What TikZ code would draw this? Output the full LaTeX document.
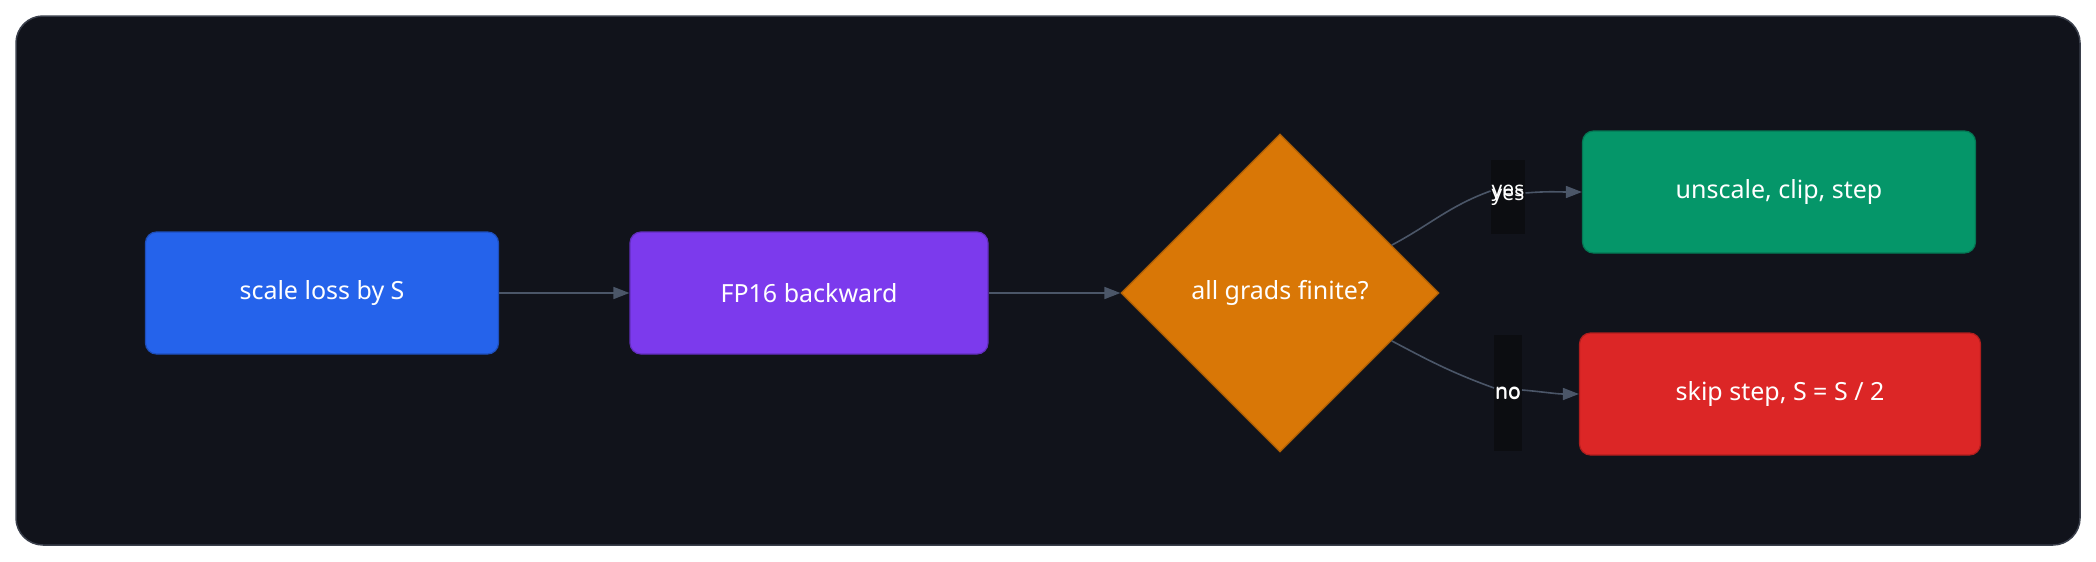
\documentclass[tikz,border=0pt]{standalone}
\usepackage{fontspec}
\setmainfont{Noto Sans}
\usetikzlibrary{shapes.geometric,arrows.meta,calc}
\definecolor{bgpage}{HTML}{FFFFFF}
\definecolor{bgpanel}{HTML}{11131B}
\definecolor{bgedge}{HTML}{3A3F4B}
\definecolor{lnk}{HTML}{4B5668}
\definecolor{cblue}{HTML}{2563EB}
\definecolor{cpurple}{HTML}{7C3AED}
\definecolor{corange}{HTML}{D97706}
\definecolor{cgreen}{HTML}{059669}
\definecolor{cred}{HTML}{DC2626}
\definecolor{lblbg}{HTML}{0C0D11}
\tikzset{
  step/.style={draw=#1!80!black, fill=#1, rounded corners=11pt, line width=1.2pt,
    text=white, font=\fontsize{25}{30}\selectfont, minimum height=122pt},
  link/.style={draw=lnk, line width=1.6pt, -{Triangle[length=16pt,width=12pt]}},
  tag/.style={fill=lblbg, text=white, font=\fontsize{21}{24}\selectfont, inner sep=1pt, minimum width=24pt}
}
\begin{document}
\begin{tikzpicture}[x=1pt,y=-1pt]
\useasboundingbox (0,0) rectangle (2096,562);
\fill[bgpage] (0,0) rectangle (2096,562);
\draw[bgedge, fill=bgpanel, line width=1.5pt, rounded corners=27pt] (16,16) rectangle (2080,545);

\node[step=cblue, minimum width=353pt] (scale) at (322,293) {scale loss by S};
\node[step=cpurple, minimum width=358pt] (back) at (809,293) {FP16 backward};
\node[draw=corange!80!black, fill=corange, line width=1.2pt, shape=diamond, aspect=1,
  minimum width=318pt, minimum height=318pt, inner sep=0pt, text=white,
  font=\fontsize{25}{30}\selectfont] (check) at (1280,293) {all grads finite?};
\node[step=cgreen, minimum width=393pt] (ok) at (1779,192) {unscale, clip, step};
\node[step=cred, minimum width=401pt] (skip) at (1780,394) {skip step, S = S / 2};

\coordinate (yout) at ($(check.east)!0.3!(check.north)$);
\coordinate (nout) at ($(check.east)!0.3!(check.south)$);
\node[tag, minimum height=74pt] (yes) at (1508,197) {yes};
\node[tag, minimum height=116pt] (no) at (1508,393) {no};

\draw[link] (scale) -- (back);
\draw[link] (back) -- (check);
\draw[draw=lnk, line width=1.6pt] (yout) to[out=28,in=200] (yes.west|-1508,191);
\draw[link] (yes.east|-1508,193) to[out=5,in=180] (ok.west);
\draw[draw=lnk, line width=1.6pt] (nout) to[out=-28,in=160] (no.west|-1508,388);
\draw[link] (no.east|-1508,390) to[out=-5,in=180] (skip.west);
\node[tag, fill=none, minimum height=0pt] at (1508,193) {yes};
\node[tag, fill=none, minimum height=0pt] at (1508,394) {no};
\end{tikzpicture}
\end{document}
